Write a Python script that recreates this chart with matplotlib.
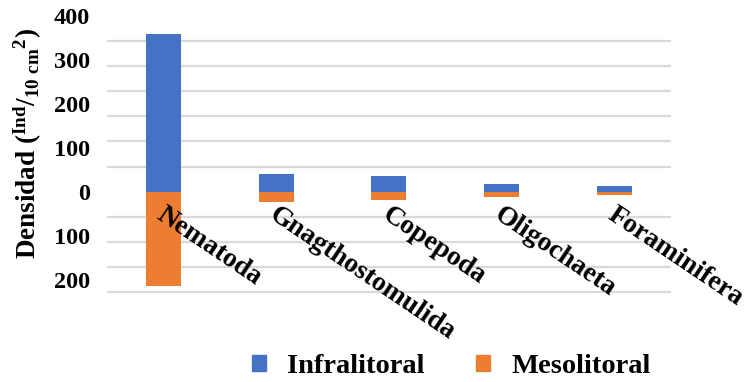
import numpy as np
import matplotlib
matplotlib.use("Agg")
import matplotlib.pyplot as plt
from matplotlib.patches import Patch

# Density of meiofauna groups (Ind/10 cm^2) in two intertidal zones
categories = ["Nematoda", "Gnagthostomulida", "Copepoda", "Oligochaeta", "Foraminifera"]
infralitoral = [359, 41, 35, 17, 13]
mesolitoral = [214, 24, 20, 11, 7]
tick_values = [400, 300, 200, 100, 0, -100, -200]
tick_labels = ["400", "300", "200", "100", "0", "100", "200"]

BLUE = "#4472C4"
ORANGE = "#ED7D31"
SERIF = "Liberation Serif"

plt.rcParams["mathtext.fontset"] = "custom"
plt.rcParams["mathtext.rm"] = "Liberation Serif:bold"
plt.rcParams["mathtext.it"] = "Liberation Serif:bold"
plt.rcParams["mathtext.bf"] = "Liberation Serif:bold"

fig = plt.figure(figsize=(7.47, 3.82), dpi=100)
ax = fig.add_axes([0.1432, 0.228, 0.755, 0.736])

x = np.arange(len(categories))
width = 0.31
ax.bar(x, infralitoral, width, color=BLUE, label="Infralitoral", zorder=3)
ax.bar(x, [-v for v in mesolitoral], width, color=ORANGE, label="Mesolitoral", zorder=3)

ax.set_xlim(-0.5, len(categories) - 0.5)
ax.set_ylim(-235, 405)

# grid spaced in sevenths of the 0-400 range
step = 400 / 7
ax.set_yticks(np.arange(-4, 8) * step, minor=True)
ax.yaxis.grid(True, which="minor", color="#d9d9d9", linewidth=1.6, zorder=0)
ax.set_yticks(tick_values)
ax.set_yticklabels(tick_labels, fontfamily=SERIF, fontweight="bold", fontsize=17.5)
ax.tick_params(axis="y", which="both", length=0, pad=12)
ax.set_xticks([])
for s in ax.spines.values():
    s.set_visible(False)

for xi, name in zip(x, categories):
    ax.text(xi + 0.02, -24, name, rotation=-34, rotation_mode="anchor",
            ha="left", va="top", fontfamily=SERIF, fontweight="bold", fontsize=19.8)

ax.set_ylabel(r"Densidad ($\mathregular{^{Ind}/_{10\ cm}{}^{2}}$)",
              fontfamily=SERIF, fontweight="bold", fontsize=19.5)
ax.yaxis.set_label_coords(-0.112, 0.54)

handles = [Patch(color=BLUE), Patch(color=ORANGE)]
fig.legend(handles, ["Infralitoral", "Mesolitoral"], ncol=2, frameon=False,
           loc="center", bbox_to_anchor=(0.604, 0.04),
           prop={"family": SERIF, "weight": "bold", "size": 20.5},
           handlelength=0.5, handleheight=0.5, handletextpad=0.75,
           columnspacing=1.8)

fig.savefig("out.png", dpi=100)
